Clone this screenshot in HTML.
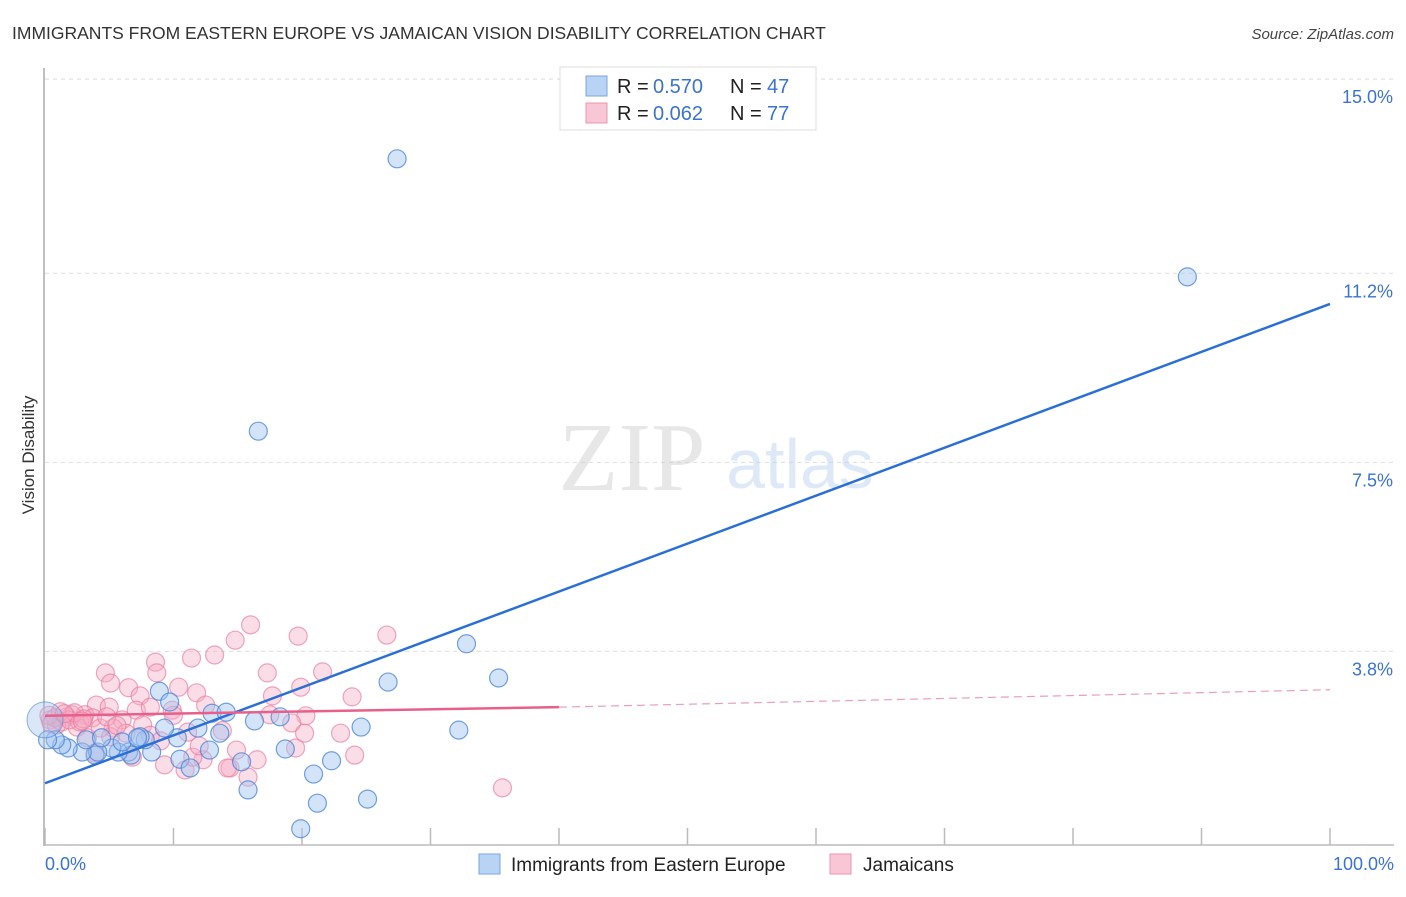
<!DOCTYPE html>
<html><head><meta charset="utf-8"><style>
body{margin:0;background:#fff;font-family:"Liberation Sans",sans-serif;}
svg text{font-family:"Liberation Sans",sans-serif;}
</style></head><body>
<svg id="chart" width="1406" height="892" xmlns="http://www.w3.org/2000/svg">
<text x="12" y="39" font-size="17.5" fill="#333">IMMIGRANTS FROM EASTERN EUROPE VS JAMAICAN VISION DISABILITY CORRELATION CHART</text>
<text x="1394" y="39" font-size="15" fill="#444" text-anchor="end" font-style="italic">Source: ZipAtlas.com</text>
<text x="34" y="455" font-size="17" fill="#333" text-anchor="middle" transform="rotate(-90 34 455)">Vision Disability</text>
<g id="grid"></g>
<g opacity="0.45">
<text x="632" y="490" font-size="98" fill="#ccc" text-anchor="middle" style="font-family:'Liberation Serif',serif">ZIP</text>
<text x="800" y="488" font-size="70" fill="#b8cff0" text-anchor="middle">atlas</text>
</g>
<g id="pts"></g>
<g id="lines"></g>
<g>
<rect x="560" y="67" width="256" height="63" fill="#fff" stroke="#ddd"/>
<rect x="586" y="76" width="21" height="20" fill="#b9d3f5" stroke="#7aa6e0"/>
<rect x="586" y="103" width="21" height="20" fill="#f9c6d5" stroke="#ec94b0"/>
<text x="617" y="93" font-size="20" fill="#222">R =</text>
<text x="653" y="93" font-size="20" fill="#3a73d0">0.570</text>
<text x="730" y="93" font-size="20" fill="#222">N =</text>
<text x="767" y="93" font-size="20" fill="#3a73d0">47</text>
<text x="617" y="120" font-size="20" fill="#222">R =</text>
<text x="653" y="120" font-size="20" fill="#3a73d0">0.062</text>
<text x="730" y="120" font-size="20" fill="#222">N =</text>
<text x="767" y="120" font-size="20" fill="#3a73d0">77</text>
</g>
<g>
<rect x="479" y="854" width="21" height="20" fill="#b9d3f5" stroke="#7aa6e0"/>
<text x="511" y="871" font-size="19" fill="#222">Immigrants from Eastern Europe</text>
<rect x="830" y="854" width="21" height="20" fill="#f9c6d5" stroke="#ec94b0"/>
<text x="863" y="871" font-size="19" fill="#222">Jamaicans</text>
</g>
</svg>
<script>
const yTicks=[15.0,11.2,7.5,3.8];
const yTickLabels=["15.0%","11.2%","7.5%","3.8%"];
const xTickLabels=["0.0%","100.0%"];
const blueX=[27.4,88.9,16.6,32.8,35.3,26.7,32.2,24.6,19.9,21.2,25.1,20.9,22.3,18.7,15.8,15.3,13.6,12.8,13.0,14.1,11.9,10.3,10.5,11.3,9.3,8.3,8.9,9.7,7.8,7.4,6.5,6.7,5.7,5.2,3.9,4.1,2.9,1.8,1.3,0.8,0.2,3.2,4.4,6.0,7.2,16.3,18.3];
const blueY=[13.44,11.13,8.11,3.95,3.28,3.20,2.26,2.32,0.33,0.83,0.91,1.40,1.66,1.89,1.09,1.64,2.20,1.87,2.59,2.61,2.30,2.11,1.69,1.52,2.30,1.83,3.02,2.81,2.07,2.13,1.83,1.77,1.83,1.91,1.77,1.83,1.83,1.91,1.97,2.07,2.07,2.07,2.11,2.03,2.11,2.44,2.52];
const pinkX=[16.0,14.8,13.2,11.4,8.6,8.7,4.7,5.1,6.5,7.4,10.4,11.8,17.3,17.7,4.0,5.0,7.1,8.2,9.9,12.5,17.5,6.0,7.6,3.1,1.7,0.4,0.9,2.5,5.3,11.1,3.3,5.1,8.2,14.9,16.5,9.3,10.9,12.3,14.4,15.8,11.5,6.8,3.9,19.7,26.6,21.6,19.9,23.9,20.3,19.2,20.2,23.0,24.1,19.5,35.6,14.2,0.8,1.3,2.1,2.7,3.7,4.3,1.2,1.9,0.3,2.3,3.0,4.8,6.3,9.0,12.0,13.8,10.0,0.5,1.5,2.9,5.6];
const pinkY=[4.32,4.02,3.73,3.67,3.59,3.38,3.38,3.18,3.09,2.93,3.10,2.99,3.38,2.93,2.75,2.71,2.65,2.71,2.65,2.75,2.56,2.46,2.36,2.56,2.52,2.46,2.36,2.32,2.30,2.22,2.11,2.13,2.16,1.87,1.68,1.58,1.48,1.68,1.52,1.34,1.73,1.73,1.81,4.10,4.12,3.40,3.10,2.91,2.54,2.40,2.20,2.20,1.77,1.91,1.13,1.52,2.50,2.42,2.56,2.42,2.50,2.30,2.62,2.46,2.55,2.60,2.48,2.52,2.20,2.05,1.95,2.25,2.55,2.38,2.58,2.44,2.35];
const blueTrend=[0,1.22,100,10.6];
const pinkTrend=[0,2.54,40,2.71,100,3.05];
const NS="http://www.w3.org/2000/svg";
const xs=v=>45+v*12.85;
const ys=v=>845.6-v*51.1;
function mk(tag,attrs,parent){const e=document.createElementNS(NS,tag);for(const k in attrs)e.setAttribute(k,attrs[k]);parent.appendChild(e);return e;}
const grid=document.getElementById('grid');
const topLine=mk('line',{x1:45,x2:1394,y1:79,y2:79,stroke:'#ddd','stroke-dasharray':'4,4'},grid);


yTicks.forEach((t,i)=>{
 const y=ys(t);
 const l=mk('line',{x1:45,x2:1394,y1:y,y2:y,stroke:'#ddd','stroke-dasharray':'4,4'},grid);
 
 
 const tx=mk('text',{x:1393,y:y+24,'font-size':18,fill:'#3a73d0','text-anchor':'end'},grid);
 tx.textContent=yTickLabels[i];
 
 
});
const ax=mk('line',{x1:44,x2:44,y1:68,y2:846,stroke:'#aaa','stroke-width':1.5},grid);


const bx=mk('line',{x1:44,x2:1394,y1:845,y2:845,stroke:'#bbb','stroke-width':1.5},grid);


for(let i=0;i<=10;i++){
 const x=xs(i*10);
 const t=mk('line',{x1:x,x2:x,y1:828,y2:845,stroke:'#bbb','stroke-width':1.5},grid);
 
 
}
[[45,'start',0],[1394,'end',1]].forEach(([x,a,i])=>{
 const t=mk('text',{x:x,y:870,'font-size':18,fill:'#3a73d0','text-anchor':a},grid);
 t.textContent=xTickLabels[i];
 
 
});
const pts=document.getElementById('pts');
pinkX.forEach((v,i)=>{
 const c=mk('circle',{cx:xs(v),cy:ys(pinkY[i]),r:9,fill:'rgba(246,170,195,0.4)',stroke:'rgba(232,120,155,0.65)','stroke-width':1.2},pts);
 
 
});
blueX.forEach((v,i)=>{
 const c=mk('circle',{cx:xs(v),cy:ys(blueY[i]),r:9,fill:'rgba(160,196,240,0.45)',stroke:'rgba(70,130,215,0.75)','stroke-width':1.2},pts);
 
 
});
const big=mk('circle',{cx:xs(0),cy:ys(2.46),r:18,fill:'rgba(160,196,240,0.4)',stroke:'rgba(70,130,215,0.6)'},pts);


const lines=document.getElementById('lines');
const bl=mk('line',{x1:xs(blueTrend[0]),y1:ys(blueTrend[1]),x2:xs(blueTrend[2]),y2:ys(blueTrend[3]),stroke:'#2a6fd6','stroke-width':2.5},lines);


const pl=mk('line',{x1:xs(pinkTrend[0]),y1:ys(pinkTrend[1]),x2:xs(pinkTrend[2]),y2:ys(pinkTrend[3]),stroke:'#e8608a','stroke-width':2.5},lines);


const pd=mk('line',{x1:xs(pinkTrend[2]),y1:ys(pinkTrend[3]),x2:xs(pinkTrend[4]),y2:ys(pinkTrend[5]),stroke:'#e8a0b8','stroke-width':1.2,'stroke-dasharray':'8,5'},lines);


</script>
</body></html>
